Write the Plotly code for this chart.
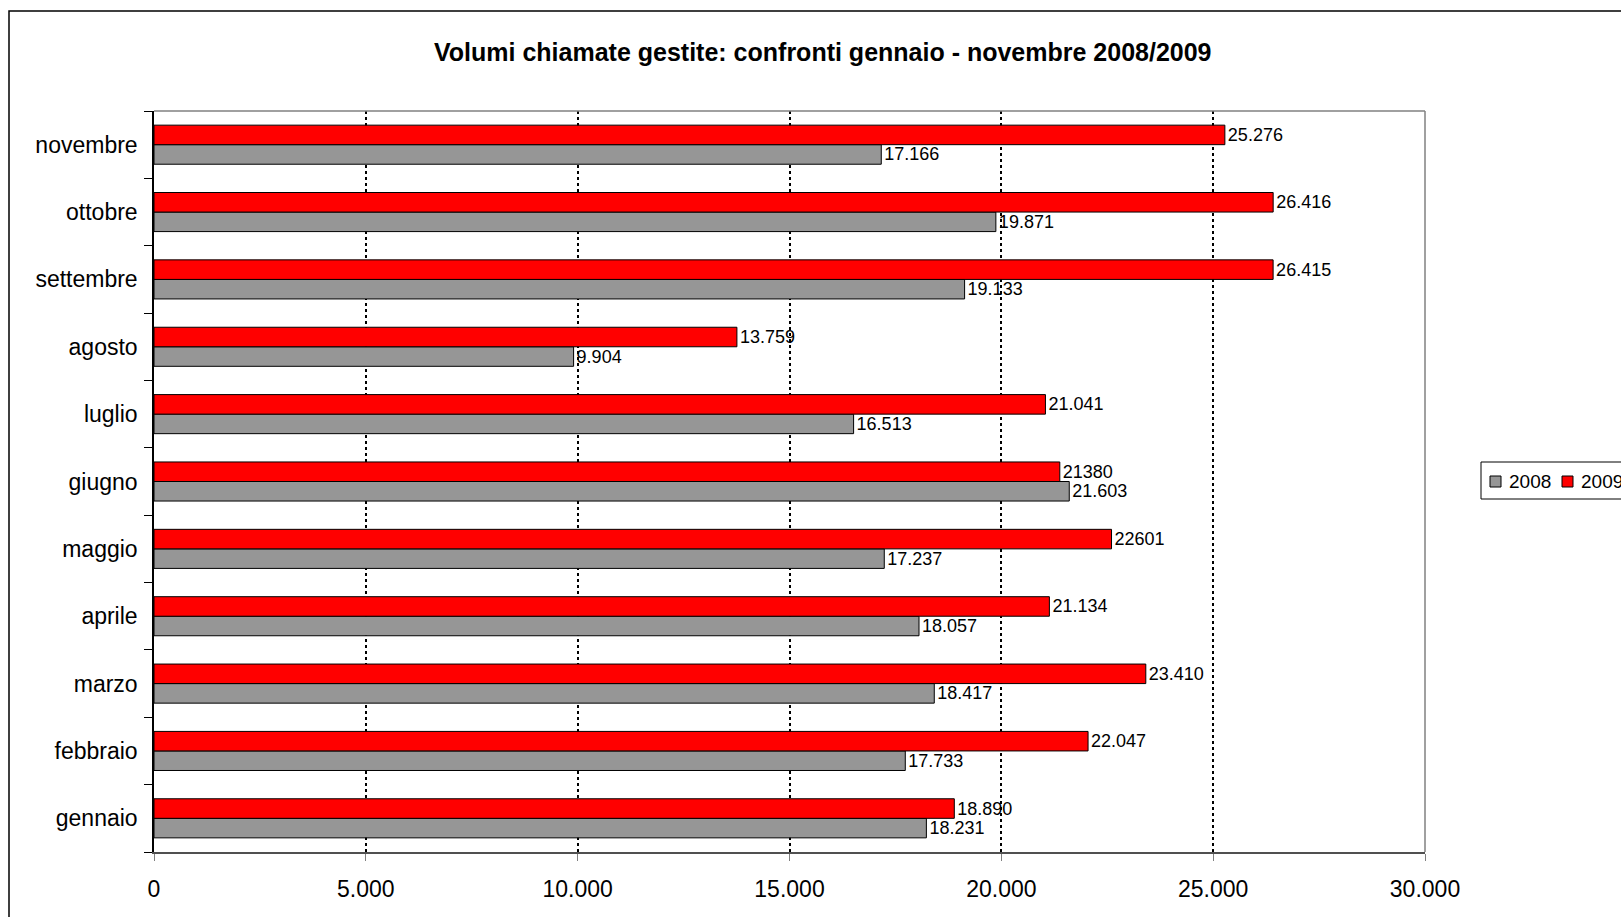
import plotly.graph_objects as go

months = ["gennaio", "febbraio", "marzo", "aprile", "maggio", "giugno",
          "luglio", "agosto", "settembre", "ottobre", "novembre"]
v2008 = [18231, 17733, 18417, 18057, 17237, 21603, 16513, 9904, 19133, 19871, 17166]
v2009 = [18890, 22047, 23410, 21134, 22601, 21380, 21041, 13759, 26415, 26416, 25276]
lab2008 = ["18.231", "17.733", "18.417", "18.057", "17.237", "21.603",
           "16.513", "9.904", "19.133", "19.871", "17.166"]
lab2009 = ["18.890", "22.047", "23.410", "21.134", "22601", "21380",
           "21.041", "13.759", "26.415", "26.416", "25.276"]
xticks = [0, 5000, 10000, 15000, 20000, 25000, 30000]
series_names = ["2008", "2009"]
series_colors = ["#969696", "#FF0000"]
title = "Volumi chiamate gestite: confronti gennaio - novembre 2008/2009"

FONT = "Liberation Sans, Arial, sans-serif"
W, H = 1621, 917
L, R, T, B = 154, 196, 111, 65
pw, ph = W - L - R, H - T - B

def px_x(x):
    return (x - L) / pw

def px_y(y):
    return 1 - (y - T) / ph

fig = go.Figure()
for name, vals, labs, col in [(series_names[0], v2008, lab2008, series_colors[0]),
                              (series_names[1], v2009, lab2009, series_colors[1])]:
    fig.add_trace(go.Bar(
        y=months, x=vals, name=name, orientation="h",
        marker=dict(color=col, line=dict(color="black", width=1)),
        text=labs, textposition="outside",
        textfont=dict(family=FONT, size=18, color="black"),
        cliponaxis=False, constraintext="none",
        showlegend=False,
    ))

shapes = [
    # plot-area top and right border
    dict(type="line", xref="paper", yref="paper", x0=0, x1=1, y0=1, y1=1,
         line=dict(color="#808080", width=1.5)),
    dict(type="line", xref="paper", yref="paper", x0=1, x1=1, y0=0, y1=1,
         line=dict(color="#808080", width=1.5), layer="below"),
    # outer chart border
    dict(type="rect", xref="paper", yref="paper",
         x0=px_x(9), x1=px_x(1660), y0=px_y(960), y1=px_y(11),
         line=dict(color="black", width=1.5)),
    # legend box
    dict(type="rect", xref="paper", yref="paper",
         x0=px_x(1481), x1=px_x(1660), y0=px_y(499), y1=px_y(462),
         line=dict(color="black", width=1), fillcolor="white"),
]
annotations = [
    dict(text="<b>" + title + "</b>", xref="paper", yref="paper",
         x=px_x(823), y=px_y(52), xanchor="center", yanchor="middle",
         showarrow=False, font=dict(family=FONT, size=25, color="black")),
]
# legend entries
for i, (name, col) in enumerate(zip(series_names, series_colors)):
    sx = 1490 + i * 72
    shapes.append(dict(type="rect", xref="paper", yref="paper",
                       x0=px_x(sx), x1=px_x(sx + 11), y0=px_y(487), y1=px_y(476),
                       line=dict(color="black", width=1), fillcolor=col))
    annotations.append(dict(text=name, xref="paper", yref="paper",
                            x=px_x(sx + 17), y=px_y(481), xanchor="left", yanchor="middle",
                            showarrow=False,
                            font=dict(family=FONT, size=19, color="black")))

fig.update_layout(
    width=W, height=H,
    margin=dict(l=L, r=R, t=T, b=B, autoexpand=False),
    paper_bgcolor="white", plot_bgcolor="white",
    barmode="group", bargap=0.42, bargroupgap=0,
    separators=",.",
    font=dict(family=FONT, size=23, color="black"),
    showlegend=False,
    xaxis=dict(
        range=[0, 30000], tickvals=xticks, tickformat=",d",
        showgrid=True, gridcolor="black", griddash="dot", gridwidth=1.5,
        showline=True, linecolor="#505050", linewidth=1.5,
        ticks="outside", ticklen=7, tickcolor="#808080",
        ticklabelstandoff=9, zeroline=False,
        tickfont=dict(family=FONT, size=23, color="black"),
        fixedrange=True,
    ),
    yaxis=dict(
        categoryorder="array", categoryarray=months,
        showline=True, linecolor="black", linewidth=1.5,
        ticks="outside", ticklen=8, tickcolor="black", tickson="boundaries",
        ticklabelstandoff=10, showgrid=False,
        tickfont=dict(family=FONT, size=23, color="black"),
        fixedrange=True,
    ),
    shapes=shapes,
    annotations=annotations,
)

fig.write_html(
    "out.html",
    config={"displayModeBar": False},
    post_script="document.body.style.margin='0';document.body.style.overflow='hidden';",
)
